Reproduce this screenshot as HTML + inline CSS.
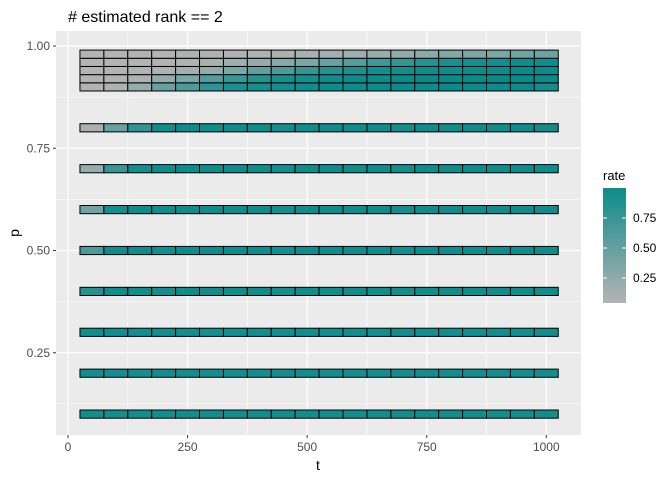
<!DOCTYPE html>
<html><head><meta charset="utf-8"><style>
body{margin:0;background:#fff;font-family:"Liberation Sans",Arial,sans-serif}
svg text{font-family:"Liberation Sans",Arial,sans-serif}
</style></head><body>
<svg id="chart" width="672" height="480" viewBox="0 0 672 480" xmlns="http://www.w3.org/2000/svg">
<rect width="672" height="480" fill="#fff"/>
<text x="68" y="22" font-size="16" fill="#000"># estimated rank == 2</text>
<rect x="56" y="31" width="525" height="404" fill="#ebebeb"/>
<g id="grid"></g><g id="tiles"></g><g id="axes"></g>
<text x="318" y="470" font-size="14" text-anchor="middle">t</text>
<text x="19" y="233" font-size="14" text-anchor="middle" transform="rotate(-90 19 233)">p</text>
<g>
<text x="603" y="180" font-size="13">rate</text>
<defs><linearGradient id="lg" x1="0" y1="1" x2="0" y2="0"><stop offset="0" stop-color="#b3b3b3"/><stop offset="1" stop-color="#0d8b8b"/></linearGradient></defs>
<rect x="603" y="188" width="23" height="115" fill="url(#lg)"/>
<g id="legticks"></g>
</g>
</svg>
<script>
const tCenters=[50,100,150,200,250,300,350,400,450,500,550,600,650,700,750,800,850,900,950,1000];
const pRowsLow=[0.1,0.2,0.3,0.4,0.5,0.6,0.7,0.8];
const pRowsHigh=[0.90,0.92,0.94,0.96,0.98];
const ratesLow=[
[0.9,0.9,0.9,0.9,0.9,0.9,0.9,0.9,0.9,0.9,0.9,0.9,0.9,0.9,0.9,0.9,0.9,0.9,0.9,0.9],
[0.9,0.9,0.9,0.9,0.9,0.9,0.9,0.9,0.9,0.9,0.9,0.9,0.9,0.9,0.9,0.9,0.9,0.9,0.9,0.9],
[0.9,0.9,0.9,0.9,0.9,0.9,0.9,0.9,0.9,0.9,0.9,0.9,0.9,0.9,0.9,0.9,0.9,0.9,0.9,0.9],
[0.8,0.92,0.92,0.9,0.93,0.92,0.92,0.92,0.9,0.92,0.92,0.92,0.92,0.9,0.92,0.92,0.92,0.92,0.92,0.92],
[0.6,0.92,0.92,0.9,0.93,0.92,0.92,0.92,0.9,0.92,0.92,0.92,0.92,0.9,0.92,0.92,0.92,0.92,0.92,0.92],
[0.4,0.9,0.92,0.92,0.93,0.92,0.92,0.92,0.9,0.92,0.92,0.92,0.92,0.9,0.92,0.92,0.92,0.92,0.92,0.92],
[0.2,0.7,0.9,0.92,0.93,0.92,0.92,0.92,0.9,0.92,0.92,0.92,0.92,0.9,0.92,0.92,0.92,0.92,0.92,0.92],
[0.1,0.45,0.75,0.92,0.93,0.92,0.92,0.92,0.9,0.92,0.92,0.92,0.92,0.9,0.92,0.92,0.92,0.92,0.92,0.92]];
const ratesHigh=[
[0.04,0.06,0.2,0.45,0.6,0.75,0.85,0.88,0.9,0.92,0.93,0.93,0.94,0.94,0.93,0.95,0.94,0.93,0.94,0.9],
[0.04,0.05,0.08,0.2,0.35,0.55,0.7,0.8,0.87,0.9,0.92,0.93,0.93,0.94,0.95,0.95,0.94,0.95,0.96,0.95],
[0.04,0.04,0.05,0.08,0.13,0.22,0.35,0.5,0.6,0.72,0.8,0.85,0.88,0.9,0.92,0.92,0.93,0.93,0.94,0.94],
[0.04,0.04,0.04,0.05,0.07,0.1,0.15,0.2,0.27,0.35,0.45,0.55,0.65,0.72,0.8,0.85,0.87,0.9,0.92,0.92],
[0.04,0.04,0.04,0.04,0.05,0.05,0.06,0.07,0.08,0.1,0.12,0.15,0.18,0.2,0.25,0.3,0.33,0.35,0.4,0.42]];
const xTicks=[0,250,500,750,1000];
const yTicks=[0.25,0.5,0.75,1.0];
const yTickLabels=["0.25","0.50","0.75","1.00"];
const legTicks=[0.25,0.5,0.75];
const legLabels=["0.25","0.50","0.75"];

const NS="http://www.w3.org/2000/svg";
const X=v=>68+v*0.4783;
const Y=v=>46+(1-v)*409;
const LY=v=>303-(v-0.0417)*120;
const rmin=0.0417,rmax=0.958;
function col(r){let f=Math.max(0,Math.min(1,(r-rmin)/(rmax-rmin)));
 const a=[179,179,179],b=[8,139,139];
 return 'rgb('+a.map((c,i)=>Math.round(c+(b[i]-c)*f)).join(',')+')';}
function mk(tag,attrs,parent){const e=document.createElementNS(NS,tag);for(const k in attrs)e.setAttribute(k,attrs[k]);parent.appendChild(e);return e;}
const grid=document.getElementById('grid'),tiles=document.getElementById('tiles'),axes=document.getElementById('axes');
[125,375,625,875].forEach(v=>{const l=mk('line',{x1:X(v),x2:X(v),y1:31,y2:435,stroke:'#fff','stroke-width':0.6},grid);});
[0.125,0.375,0.625,0.875].forEach(v=>{const l=mk('line',{x1:56,x2:581,y1:Y(v),y2:Y(v),stroke:'#fff','stroke-width':0.6},grid);});
xTicks.forEach(v=>{const l=mk('line',{x1:X(v),x2:X(v),y1:31,y2:435,stroke:'#fff','stroke-width':1.2},grid);
 const tk=mk('line',{x1:X(v),x2:X(v),y1:435,y2:438,stroke:'#333','stroke-width':1},axes);
 const t=mk('text',{x:X(v),y:451,'font-size':12,'text-anchor':'middle',fill:'#4d4d4d'},axes);t.textContent=String(v);});
yTicks.forEach((v,i)=>{const l=mk('line',{x1:56,x2:581,y1:Y(v),y2:Y(v),stroke:'#fff','stroke-width':1.2},grid);
 const tk=mk('line',{x1:53,x2:56,y1:Y(v),y2:Y(v),stroke:'#333','stroke-width':1},axes);
 const t=mk('text',{x:50,y:Y(v)+4,'font-size':12,'text-anchor':'end',fill:'#4d4d4d'},axes);t.textContent=yTickLabels[i];});
function drawRow(p,vals){tCenters.forEach((t,j)=>{const x0=X(t-25),x1=X(t+25),y0=Y(p+0.01),y1=Y(p-0.01);
 const r=mk('rect',{x:x0,y:y0,width:x1-x0,height:y1-y0,fill:col(vals[j]),stroke:'#000','stroke-width':1},tiles);
 });}
pRowsLow.forEach((p,i)=>drawRow(p,ratesLow[i]));
pRowsHigh.forEach((p,i)=>drawRow(p,ratesHigh[i]));
const lt=document.getElementById('legticks');
legTicks.forEach((v,i)=>{const a=mk('line',{x1:603,x2:607,y1:LY(v),y2:LY(v),stroke:'#fff'},lt);
 const b=mk('line',{x1:622,x2:626,y1:LY(v),y2:LY(v),stroke:'#fff'},lt);
 const t=mk('text',{x:633,y:LY(v)+4,'font-size':12,fill:'#000'},lt);t.textContent=legLabels[i];});
</script>
</body></html>
